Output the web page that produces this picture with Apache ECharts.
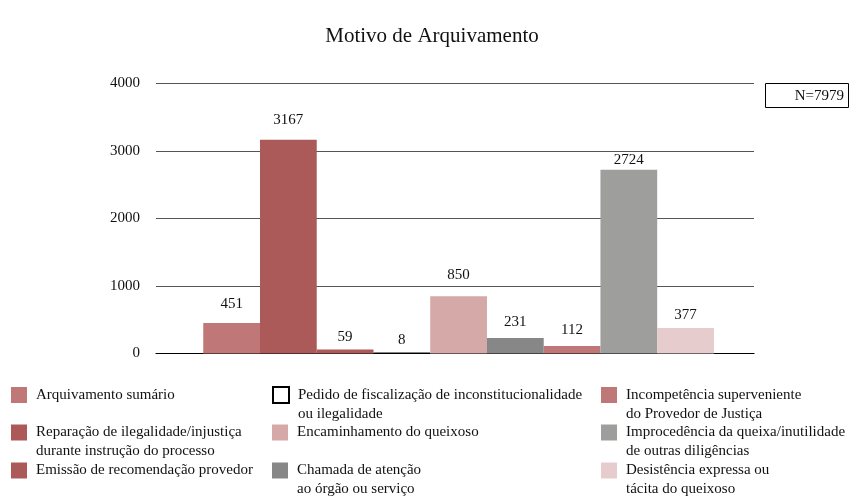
<!DOCTYPE html>
<html>
<head>
<meta charset="utf-8">
<script src="https://cdn.jsdelivr.net/npm/echarts@6/dist/echarts.min.js"></script>
<style>html,body{margin:0;padding:0;background:#fff;}#chart{width:850px;height:498px;}</style>
</head>
<body>
<div id="chart"></div>
<script>
const titleText = 'Motivo de Arquivamento';
const categories = [''];
const seriesNames = [
  'Arquivamento sumário',
  'Reparação de ilegalidade/injustiça\ndurante instrução do processo',
  'Emissão de recomendação provedor',
  'Pedido de fiscalização de inconstitucionalidade\nou ilegalidade',
  'Encaminhamento do queixoso',
  'Chamada de atenção\nao órgão ou serviço',
  'Incompetência superveniente\ndo Provedor de Justiça',
  'Improcedência da queixa/inutilidade\nde outras diligências',
  'Desistência expressa ou\ntácita do queixoso'
];
const values = [451, 3167, 59, 8, 850, 231, 112, 2724, 377];
const colors = ['#bf7877', '#ab5a59', '#ab5a59', '#ffffff', '#d4a9a8', '#878787', '#bf7877', '#9e9e9d', '#e6cccc'];
const yTicks = [0, 1000, 2000, 3000, 4000];
const totalLabel = 'N=7979';

const FONT = 'Liberation Serif';
const chart = echarts.init(document.getElementById('chart'), null, {renderer: 'canvas'});

// legend layout: 3 columns x 3 rows
const colX = [11, 272, 601];
const rowIconTop = [387, 424.5, 462.5];
const LH = 19;

const legends = seriesNames.map((name, i) => {
  const col = Math.floor(i / 3), row = i % 3;
  const twoLine = name.indexOf('\n') >= 0;
  return {
    data: [name],
    formatter: twoLine ? (n => '\n' + n) : (n => n),
    left: colX[col],
    top: rowIconTop[row] - (twoLine ? (LH * 3 / 2 - 8) : (LH / 2 - 8)),
    padding: 0,
    orient: 'vertical',
    icon: 'rect',
    itemWidth: 16,
    itemHeight: 16,
    selectedMode: false,
    textStyle: {fontFamily: FONT, fontSize: 15, lineHeight: LH, color: '#111', padding: [0, 0, 0, 4]}
  };
});

// label offsets above each bar (styling only)
const labelDist = [11, 12, 5, 5, 14, 8, 8, 2, 5];

const series = seriesNames.map((name, i) => ({
  name: name,
  type: 'bar',
  xAxisIndex: 1,
  yAxisIndex: 1,
  data: [values[i]],
  barGap: '0%',
  barCategoryGap: '14.6%',
  itemStyle: i === 3 ? {color: colors[i], borderColor: '#000', borderWidth: 1} : {color: colors[i]},
  label: {
    show: true,
    position: 'top',
    distance: labelDist[i],
    fontFamily: FONT,
    fontSize: 15,
    color: '#111'
  }
}));

const yBase = {
  type: 'value',
  min: yTicks[0],
  max: yTicks[yTicks.length - 1],
  interval: 1000
};

chart.setOption({
  animation: false,
  backgroundColor: '#fff',
  title: {
    text: titleText,
    left: 432,
    textAlign: 'center',
    top: 26,
    padding: 0,
    textStyle: {fontFamily: FONT, fontSize: 21, fontWeight: 'normal', color: '#111'}
  },
  legend: legends,
  grid: [
    {left: 156, right: 96, top: 83.5, bottom: 498 - 353.5, containLabel: false},
    {left: 159.6, right: 92.4, top: 83.5, bottom: 498 - 353.5, containLabel: false}
  ],
  xAxis: [{
    type: 'category',
    gridIndex: 0,
    data: categories,
    axisLine: {show: true, lineStyle: {color: '#000', width: 1.2}},
    axisTick: {show: false},
    axisLabel: {show: false}
  }, {
    type: 'category',
    gridIndex: 1,
    data: categories,
    show: false
  }],
  yAxis: [Object.assign({}, yBase, {
    gridIndex: 0,
    axisLine: {show: false},
    axisTick: {show: false},
    axisLabel: {margin: 16, fontFamily: FONT, fontSize: 15, color: '#111', formatter: v => String(v)},
    splitLine: {lineStyle: {color: '#555', width: 1}}
  }), Object.assign({}, yBase, {
    gridIndex: 1,
    show: false,
    splitLine: {show: false}
  })],
  series: series,
  graphic: [{
    type: 'group',
    left: 765,
    top: 83,
    children: [
      {type: 'rect', shape: {x: 0.5, y: 0.5, width: 83, height: 24}, style: {fill: '#fff', stroke: '#000', lineWidth: 1}},
      {type: 'text', x: 79, y: 13, style: {text: totalLabel, align: 'right', verticalAlign: 'middle', font: '15px "' + FONT + '"', fill: '#111'}}
    ]
  }]
});
</script>
</body>
</html>
